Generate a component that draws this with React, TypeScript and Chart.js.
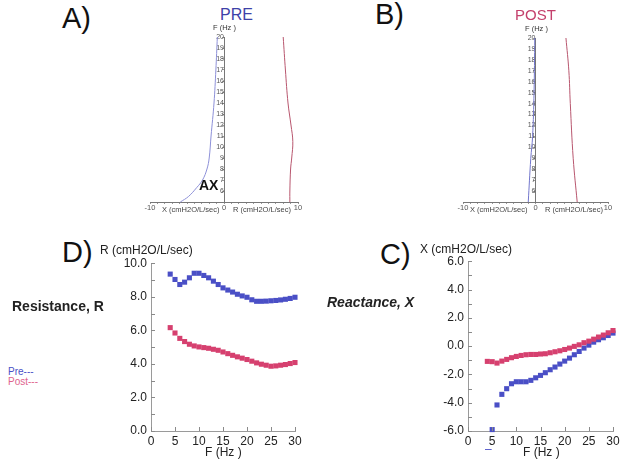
import React, { useEffect, useRef } from 'react';
import { Chart, registerables } from 'chart.js';
Chart.register(...registerables);

const FONT = '"Liberation Sans", Arial, Helvetica, sans-serif';
const BLUE = '#4a4fc6';
const RED = '#d6406f';

// ---- Top panels (A: PRE, B: POST) : frequency on the vertical axis ----
const preFreqX = [5, 5.5, 6.3, 7, 8, 9, 11, 14, 17, 20];
const preReactanceTop = [-5.9, -4.8, -3.7, -2.9, -2.3, -2.0, -1.75, -1.35, -1.1, -0.9];
const preFreqR = [5, 6, 8, 9, 10.5, 12, 14, 17, 20];
const preResistanceTop = [8.9, 8.9, 9.0, 9.15, 9.3, 9.05, 8.65, 8.3, 8.0];
const postFreqX = [5, 9, 11, 15, 20];
const postReactanceTop = [-1.0, -0.65, -0.4, -0.2, -0.1];
const postFreqR = [5, 9, 14, 17, 20];
const postResistanceTop = [5.75, 5.2, 4.8, 4.6, 4.2];
const topXLabels = [-10, 0, 10];

// ---- Bottom panels (D: Resistance, C: Reactance) ----
const freqD = [4, 5, 6, 7, 8, 9, 10, 11, 12, 13, 14, 15, 16, 17, 18, 19, 20, 21, 22, 23, 24, 25, 26, 27, 28, 29, 30];
const preR = [9.35, 9.03, 8.73, 8.87, 9.13, 9.4, 9.4, 9.27, 9.13, 8.93, 8.73, 8.53, 8.4, 8.28, 8.15, 8.05, 7.97, 7.82, 7.73, 7.73, 7.74, 7.76, 7.78, 7.81, 7.85, 7.9, 7.97];
const postR = [6.16, 5.84, 5.52, 5.33, 5.17, 5.07, 5.01, 4.97, 4.93, 4.87, 4.81, 4.71, 4.61, 4.51, 4.42, 4.34, 4.26, 4.16, 4.06, 3.98, 3.92, 3.86, 3.88, 3.92, 3.96, 4.02, 4.08];

const freqCPre = [5, 6, 7, 8, 9, 10, 11, 12, 13, 14, 15, 16, 17, 18, 19, 20, 21, 22, 23, 24, 25, 26, 27, 28, 29, 30];
const preX = [-5.9, -4.16, -3.41, -3.01, -2.66, -2.52, -2.52, -2.52, -2.42, -2.24, -2.07, -1.88, -1.67, -1.48, -1.27, -1.06, -0.85, -0.61, -0.38, -0.14, 0.07, 0.28, 0.45, 0.59, 0.75, 0.92];
const freqCPost = [4, 5, 6, 7, 8, 9, 10, 11, 12, 13, 14, 15, 16, 17, 18, 19, 20, 21, 22, 23, 24, 25, 26, 27, 28, 29, 30];
const postX = [-1.08, -1.1, -1.2, -1.06, -0.94, -0.82, -0.73, -0.66, -0.61, -0.59, -0.59, -0.56, -0.54, -0.47, -0.4, -0.33, -0.24, -0.14, -0.02, 0.09, 0.24, 0.35, 0.49, 0.64, 0.78, 0.94, 1.1];
const strayMarkC = [{ x: -1, y: 6.3 }];

const zip = (xs: number[], ys: number[]) => xs.map((x, i) => ({ x, y: ys[i] }));
// for top panels: value on x, frequency on y
const zipF = (fs: number[], vs: number[]) => fs.map((f, i) => ({ x: vs[i], y: f }));

const innerTicks = {
  id: 'innerTicks',
  afterDraw(chart: any) {
    const { ctx, chartArea, scales } = chart;
    ctx.save();
    ctx.strokeStyle = '#8a8a8a';
    ctx.lineWidth = 1;
    scales.y.ticks.forEach((t: any) => {
      const y = Math.round(scales.y.getPixelForValue(t.value)) + 0.5;
      ctx.beginPath();
      ctx.moveTo(chartArea.left, y);
      ctx.lineTo(chartArea.left + 4, y);
      ctx.stroke();
    });
    scales.x.ticks.forEach((t: any) => {
      const x = Math.round(scales.x.getPixelForValue(t.value)) + 0.5;
      ctx.beginPath();
      ctx.moveTo(x, chartArea.bottom);
      ctx.lineTo(x, chartArea.bottom - 4);
      ctx.stroke();
    });
    ctx.restore();
  },
};

function topConfig(xData: any[], rData: any[], lineBlue: string, lineRed: string) {
  return {
    type: 'scatter',
    data: {
      datasets: [
        { data: xData, showLine: true, borderColor: lineBlue, borderWidth: 1, pointRadius: 0, tension: 0.4, clip: false },
        { data: rData, showLine: true, borderColor: lineRed, borderWidth: 1, pointRadius: 0, tension: 0.4, clip: false },
      ],
    },
    options: {
      animation: false,
      responsive: false,
      devicePixelRatio: 1,
      layout: { padding: { left: 10, right: 10, top: 10, bottom: 0 } },
      plugins: { legend: { display: false }, tooltip: { enabled: false } },
      scales: {
        x: {
          type: 'linear', position: 'bottom', min: -10, max: 10,
          afterFit: (s: any) => { s.height = 15; },
          grid: { drawOnChartArea: false, tickLength: 2, color: '#999' },
          border: { color: '#777', dash: [3, 2] },
          ticks: {
            stepSize: 1, autoSkip: false, maxRotation: 0, padding: -1,
            font: { family: FONT, size: 7.5 }, color: '#555',
            callback: (v: number) => (topXLabels.includes(v) ? String(v) : ''),
          },
        },
        y: {
          type: 'linear', position: { x: 0 }, min: 5, max: 20,
          grid: { drawOnChartArea: false, tickLength: 2, color: '#999' },
          border: { color: '#777', dash: [3, 2] },
          ticks: {
            stepSize: 1, autoSkip: false, padding: 0,
            font: { family: FONT, size: 7 }, color: '#555',
            callback: (v: number) => (Number.isInteger(v) && v >= 6 ? String(v) : ''),
          },
        },
      },
    },
  };
}

function bottomConfig(datasets: any[], yMin: number, yMax: number) {
  return {
    type: 'scatter',
    data: { datasets },
    options: {
      animation: false,
      responsive: false,
      devicePixelRatio: 1,
      layout: { padding: { left: 0, right: 12, top: 11, bottom: 0 } },
      plugins: { legend: { display: false }, tooltip: { enabled: false } },
      scales: {
        x: {
          type: 'linear', position: 'bottom', min: 0, max: 30,
          afterFit: (s: any) => { s.height = 30; },
          grid: { display: true, drawOnChartArea: false, drawTicks: false },
          border: { color: '#9a9a9a' },
          ticks: { stepSize: 5, padding: 3, maxRotation: 0, font: { family: FONT, size: 12 }, color: '#222' },
        },
        y: {
          type: 'linear', position: 'left', min: yMin, max: yMax,
          afterFit: (s: any) => { s.width = 50; },
          grid: { display: true, drawOnChartArea: false, drawTicks: false },
          border: { color: '#9a9a9a' },
          ticks: {
            stepSize: 1, autoSkip: false, padding: 4, font: { family: FONT, size: 12 }, color: '#222',
            callback: (v: number) => (v % 2 === 0 ? v.toFixed(1) : ''),
          },
        },
      },
    },
    plugins: [innerTicks],
  };
}

const sq = (color: string, data: any[]) => ({
  data, backgroundColor: color, borderWidth: 0, pointStyle: 'rect', pointRadius: 3.6, clip: false,
});

function Panel({ left, top, width, height, make }: any) {
  const ref = useRef<HTMLCanvasElement>(null);
  useEffect(() => {
    const chart = new Chart(ref.current as HTMLCanvasElement, make() as any);
    return () => chart.destroy();
  }, []);
  return (
    <canvas
      ref={ref}
      width={width}
      height={height}
      style={{ position: 'absolute', left, top, width, height }}
    />
  );
}

function T({ x, y, size, children, color = '#111', weight = 'normal', italic = false, family = FONT }: any) {
  return (
    <div
      style={{
        position: 'absolute', left: x, top: y, fontSize: size, lineHeight: 1, color,
        fontWeight: weight, fontStyle: italic ? 'italic' : 'normal', fontFamily: family, whiteSpace: 'nowrap',
      }}
    >
      {children}
    </div>
  );
}

export default function App() {
  return (
    <div style={{ position: 'fixed', left: 0, top: 0, width: 629, height: 463, background: '#fff', overflow: 'hidden' }}>
      <Panel left={140} top={27} width={168} height={190}
        make={() => topConfig(zipF(preFreqX, preReactanceTop), zipF(preFreqR, preResistanceTop), '#8d90d8', '#b8566e')} />
      <Panel left={453} top={28} width={165} height={189}
        make={() => topConfig(zipF(postFreqX, postReactanceTop), zipF(postFreqR, postResistanceTop), '#7276cc', '#b8566e')} />
      <Panel left={101} top={252} width={206} height={209}
        make={() => bottomConfig([sq(BLUE, zip(freqD, preR)), sq(RED, zip(freqD, postR))], 0, 10)} />
      <Panel left={418} top={250} width={207} height={211}
        make={() => bottomConfig([
          sq(RED, zip(freqCPost, postX)),
          sq(BLUE, zip(freqCPre, preX)),
          { ...sq('#111', strayMarkC), pointRadius: 3.2 },
        ], -6, 6)} />

      <T x={62} y={4} size={29}>A)</T>
      <T x={375} y={0} size={29}>B)</T>
      <T x={62} y={238} size={29}>D)</T>
      <T x={380} y={240} size={29}>C)</T>

      <T x={220} y={7} size={16} color="#3d41a8">PRE</T>
      <T x={515} y={7} size={15} color="#c4406c">POST</T>

      <T x={213} y={24} size={7.5} color="#333">F (Hz )</T>
      <T x={525} y={25} size={7.5} color="#333">F (Hz )</T>
      <T x={162} y={206} size={7.5} color="#444">X (cmH2O/L/sec)</T>
      <T x={233} y={206} size={7.5} color="#444">R (cmH2O/L/sec)</T>
      <T x={470} y={206} size={7.5} color="#444">X (cmH2O/L/sec)</T>
      <T x={545} y={206} size={7.5} color="#444">R (cmH2O/L/sec)</T>
      <T x={199} y={178} size={14} weight="bold" color="#111">AX</T>

      <T x={100} y={244} size={12} color="#222">R (cmH2O/L/sec)</T>
      <T x={420} y={243} size={12} color="#222">X (cmH2O/L/sec)</T>
      <T x={205} y={446} size={12} color="#222">F (Hz )</T>
      <T x={523} y={446} size={12} color="#222">F (Hz )</T>

      <T x={12} y={299} size={14} weight="bold" color="#222">Resistance, R</T>
      <T x={327} y={295} size={14} weight="bold" italic color="#222">Reactance, X</T>
      <T x={8} y={367} size={10} color="#4a4fc6">Pre---</T>
      <T x={8} y={377} size={10} color="#e0638d">Post---</T>
      <T x={485} y={443} size={12} color="#4a4fc6">–</T>
    </div>
  );
}
